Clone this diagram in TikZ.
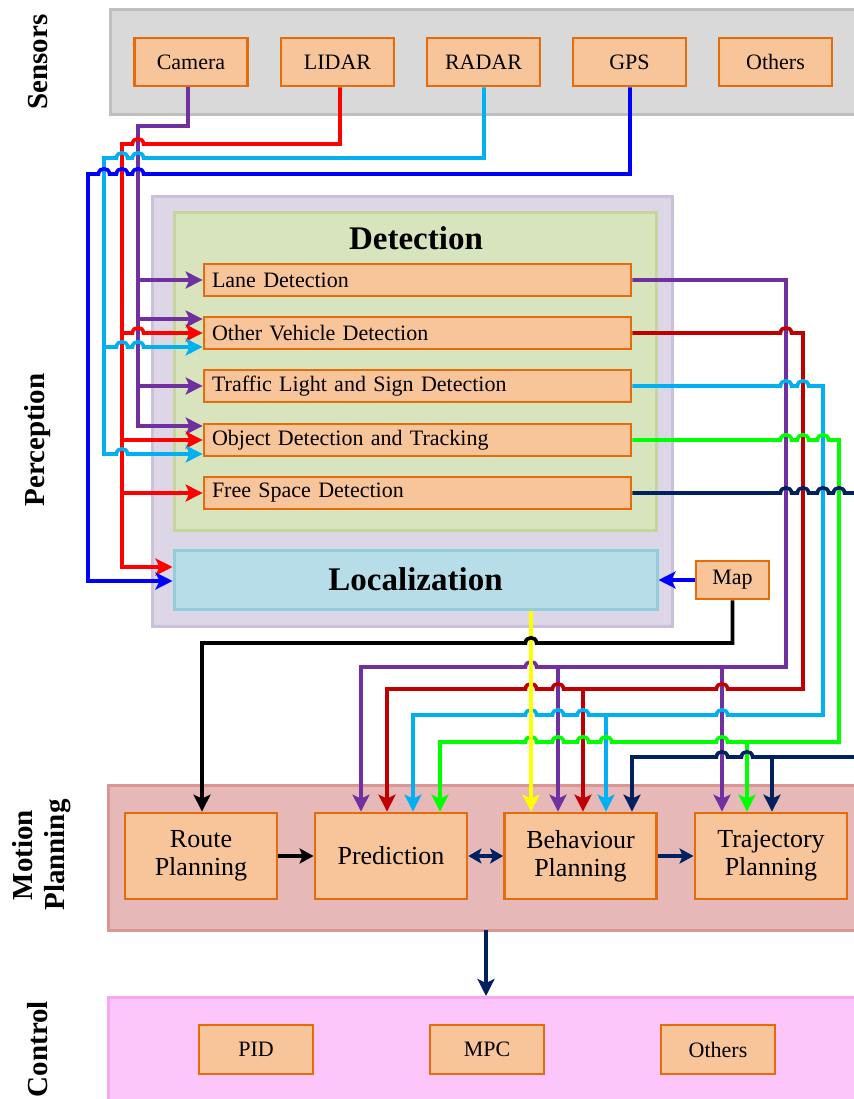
\documentclass[tikz,border=0pt]{standalone}
\usepackage{fontspec}
\setmainfont{Liberation Serif}
\usetikzlibrary{arrows.meta}
\definecolor{wpur}{HTML}{7030A0}
\definecolor{wred}{HTML}{FF0000}
\definecolor{wcyan}{HTML}{00B0F0}
\definecolor{wblue}{HTML}{0000FF}
\definecolor{wdred}{HTML}{C00000}
\definecolor{wgreen}{HTML}{00FF00}
\definecolor{wnavy}{HTML}{002060}
\definecolor{wyel}{HTML}{FFFF00}
\definecolor{ofill}{HTML}{F8C49A}
\definecolor{oline}{HTML}{E46C0A}
\definecolor{sensF}{HTML}{D9D9D9}
\definecolor{sensB}{HTML}{BFBFBF}
\definecolor{percF}{HTML}{DCD6E6}
\definecolor{percB}{HTML}{CBC0D9}
\definecolor{detF}{HTML}{D7E4BD}
\definecolor{detB}{HTML}{C3D69B}
\definecolor{locF}{HTML}{B7DEE8}
\definecolor{locB}{HTML}{92CDDC}
\definecolor{motF}{HTML}{E6B9B8}
\definecolor{motB}{HTML}{D99694}
\definecolor{ctrlF}{HTML}{FDC6FB}
\definecolor{ctrlB}{HTML}{F7A6F5}
\newcommand\hopL[2]{-- ({#1+5.5},#2) .. controls ({#1+5.5},{#2-7}) and ({#1-5.5},{#2-7}) .. ({#1-5.5},#2)}
\newcommand\hopR[2]{-- ({#1-5.5},#2) .. controls ({#1-5.5},{#2-7}) and ({#1+5.5},{#2-7}) .. ({#1+5.5},#2)}
\tikzset{
 obox/.style={draw=oline, fill=ofill, line width=2.8pt, inner sep=0pt, font=\fontsize{22}{26}\selectfont},
 dbox/.style={obox, text width=411pt, align=left, inner xsep=8pt, minimum height=32pt},
 mbox/.style={obox, minimum width=152pt, minimum height=86pt, font=\fontsize{26}{28}\selectfont, align=center},
 sbox/.style={obox, minimum width=113pt, minimum height=48pt},
 wire/.style={line width=3.6pt},
 arr/.style={-{Stealth[length=17pt,width=17pt,inset=4pt]}},
 sarr/.style={-{Stealth[length=14pt,width=15pt,inset=3pt]}},
 darr/.style={{Stealth[length=13pt,width=15pt,inset=3pt]}-{Stealth[length=13pt,width=15pt,inset=3pt]}},
 side/.style={rotate=90, font=\bfseries\fontsize{29}{32}\selectfont, align=center},
 panel/.style={line width=3pt},
}
\begin{document}
\begin{tikzpicture}[x=1pt,y=-1pt]
\useasboundingbox (0,0) rectangle (853,1099);
\fill[white] (0,0) rectangle (853,1099);
% panels
\draw[panel, draw=sensB, fill=sensF] (110,10) rectangle (860,115);
\draw[panel, draw=percB, fill=percF] (152,197) rectangle (672,626);
\draw[panel, draw=detB, fill=detF] (174,213) rectangle (656,530);
\draw[panel, draw=motB, fill=motF] (108,785) rectangle (860,930);
\draw[panel, draw=ctrlB, fill=ctrlF] (108,997) rectangle (860,1110);
% side labels
\node[side] (lsens) at (38,62) {Sensors};
\node[side] (lperc) at (38,440) {Perception};
\node[side] (lmot) at (42,855) {Motion\\Planning};
\node[side] (lctrl) at (38,1049) {Control};
% sensors
\node[sbox] (cam) at (191,62) {Camera};
\node[sbox] (lidar) at (337.5,62) {LIDAR};
\node[sbox] (radar) at (483.5,62) {RADAR};
\node[sbox] (gps) at (629.5,62) {GPS};
\node[sbox] (oth) at (775.5,62) {Others};
% detection
\node[font=\bfseries\fontsize{33}{36}\selectfont] (dettitle) at (416,238) {Detection};
\node[dbox] (lane) at (417.5,280) {Lane Detection};
\node[dbox] (ov) at (417.5,333) {Other Vehicle Detection};
\node[dbox] (tl) at (417.5,386) {Traffic Light and Sign Detection};
\node[dbox] (od) at (417.5,440) {Object Detection and Tracking};
\node[dbox] (fs) at (417.5,493) {Free Space Detection};
\node[draw=locB, fill=locF, line width=3pt, minimum width=483pt, minimum height=59pt, inner sep=0pt, font=\bfseries\fontsize{33}{36}\selectfont] (loc) at (415.5,579.5) {Localization};
\node[obox, minimum width=73pt, minimum height=38pt] (map) at (732.5,580) {Map};
% motion planning
\node[mbox] (route) at (201,856) {Route\\Planning};
\node[mbox] (pred) at (391,856) {Prediction};
\node[mbox] (beh) at (580.5,856) {Behaviour\\Planning};
\node[mbox] (traj) at (771,856) {Trajectory\\Planning};
% control
\node[sbox, minimum width=114pt, minimum height=49pt] (pid) at (256,1049.5) {PID};
\node[sbox, minimum width=114pt, minimum height=49pt] (mpc) at (487,1049.5) {MPC};
\node[sbox, minimum width=114pt, minimum height=49pt] (coth) at (718,1049.5) {Others};
% ---- sensor wires
\draw[wire,wpur,arr] (cam.south -| 188,0) -- (188,126) -- (138,126) -- (138,426) -- (od.west |- 0,426);
\draw[wire,wpur,arr] (138,280) -- (lane.west);
\draw[wire,wpur,arr] (138,319) -- (ov.west |- 0,319);
\draw[wire,wpur,arr] (138,386) -- (tl.west);
\draw[wire,wred,arr] (lidar.south -| 340,0) -- (340,144) \hopL{138}{144} -- (122,144) -- (122,567) -- (loc.west |- 0,567);
\draw[wire,wred,arr] (122,333) \hopR{138}{333} -- (ov.west);
\draw[wire,wred,arr] (122,440) -- (od.west);
\draw[wire,wred,arr] (122,493) -- (fs.west);
\draw[wire,wcyan,arr] (radar.south -| 484,0) -- (484,158) \hopL{138}{158} \hopL{122}{158} -- (104,158) -- (104,454) \hopR{122}{454} -- (od.west |- 0,454);
\draw[wire,wcyan,arr] (104,347) \hopR{122}{347} \hopR{138}{347} -- (ov.west |- 0,347);
\draw[wire,wblue,arr] (gps.south -| 630,0) -- (630,174) \hopL{138}{174} \hopL{122}{174} \hopL{104}{174} -- (88,174) -- (88,581) -- (loc.west |- 0,581);
\draw[wire,wblue,arr] (map.west) -- (loc.east |- map.west);
% ---- detection outputs
\draw[wire,wpur,arr] (lane.east) -- (786,280) -- (786,667) \hopL{531}{667} -- (361,667) -- (pred.north -| 361,0);
\draw[wire,wpur,arr] (558,667) -- (beh.north -| 558,0);
\draw[wire,wpur,arr] (722,667) -- (traj.north -| 722,0);
\draw[wire,wdred,arr] (ov.east) \hopR{786}{333} -- (803,333) -- (803,689) \hopL{722}{689} \hopL{558}{689} \hopL{531}{689} -- (387,689) -- (pred.north -| 387,0);
\draw[wire,wdred,arr] (583,689) -- (beh.north -| 583,0);
\draw[wire,wcyan,arr] (tl.east) \hopR{786}{386} \hopR{803}{386} -- (823,386) -- (823,715) \hopL{722}{715} \hopL{583}{715} \hopL{558}{715} \hopL{531}{715} -- (413,715) -- (pred.north -| 413,0);
\draw[wire,wcyan,arr] (606,715) -- (beh.north -| 606,0);
\draw[wire,wgreen,arr] (od.east) \hopR{786}{440} \hopR{803}{440} \hopR{823}{440} -- (839,440) -- (839,742) \hopL{722}{742} \hopL{606}{742} \hopL{583}{742} \hopL{558}{742} \hopL{531}{742} -- (440,742) -- (pred.north -| 440,0);
\draw[wire,wgreen,arr] (747,742) -- (traj.north -| 747,0);
\coordinate (navyout) at (856,493);
\coordinate (navyin) at (856,757);
\draw[wire,wnavy] (fs.east) \hopR{786}{493} \hopR{803}{493} \hopR{823}{493} \hopR{839}{493} -- (navyout);
\draw[wire,wnavy,arr] (navyin) \hopL{747}{757} \hopL{722}{757} -- (632,757) -- (beh.north -| 632,0);
\draw[wire,wnavy,arr] (772,757) -- (traj.north -| 772,0);
\draw[wire,wyel,arr] (loc.south -| 531,0) -- (beh.north -| 531,0);
\draw[wire,black,arr] (map.south) -- (map.south |- 0,643) \hopL{531}{643} -- (202,643) -- (route.north -| 202,0);
% ---- motion planning arrows
\draw[line width=4.5pt,black,sarr] (route.east) -- (pred.west);
\draw[line width=4.5pt,wnavy,darr] (pred.east) -- (beh.west);
\draw[line width=4.5pt,wnavy,sarr] (beh.east) -- (traj.west);
\coordinate (mpbot) at (486,930);
\coordinate (ctop) at (486,996);
\draw[line width=4pt,wnavy,arr] (mpbot) -- (ctop);
\end{tikzpicture}
\end{document}
